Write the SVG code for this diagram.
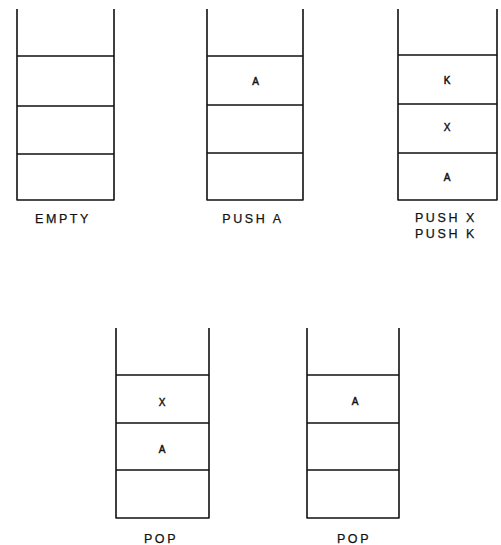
<svg xmlns="http://www.w3.org/2000/svg" width="501" height="545" viewBox="0 0 501 545">
<style>
.s{fill:none;stroke:#111;stroke-width:1.6;stroke-linejoin:round}
.c{stroke:#111;stroke-width:1.4}
text{font-family:"Liberation Sans",Arial,sans-serif;fill:#111;text-anchor:middle;stroke:#111;stroke-width:0.25}
.l{font-size:12.5px;letter-spacing:2.6px}
.v{font-size:10px;stroke-width:0.45}
</style>
<rect width="501" height="545" fill="#fff"/>
<g id="stack-empty">
<path class="s" d="M17 9V200H114V9"/>
<path class="c" d="M17 56H114M17 106H114M17 154H114"/>
<text class="l" x="63" y="223">EMPTY</text>
</g>
<g id="stack-push-a">
<path class="s" d="M207 9V200H303V9"/>
<path class="c" d="M207 56H303M207 105H303M207 153H303"/>
<text class="v" x="255.5" y="85">A</text>
<text class="l" x="253" y="223">PUSH A</text>
</g>
<g id="stack-push-xk">
<path class="s" d="M398 9V200H497V9"/>
<path class="c" d="M398 55H497M398 104H497M398 153H497"/>
<text class="v" x="447" y="84">K</text>
<text class="v" x="447" y="131">X</text>
<text class="v" x="447" y="181">A</text>
<text class="l" x="446" y="222">PUSH X</text>
<text class="l" x="446" y="238">PUSH K</text>
</g>
<g id="stack-pop1">
<path class="s" d="M116 328V518H209V328"/>
<path class="c" d="M116 375H209M116 423H209M116 470H209"/>
<text class="v" x="162" y="406">X</text>
<text class="v" x="162" y="453">A</text>
<text class="l" x="161" y="543">POP</text>
</g>
<g id="stack-pop2">
<path class="s" d="M307 328V518H399V328"/>
<path class="c" d="M307 375H399M307 423H399M307 470H399"/>
<text class="v" x="355" y="405">A</text>
<text class="l" x="354" y="543">POP</text>
</g>
<g id="connectors"></g>
</svg>
